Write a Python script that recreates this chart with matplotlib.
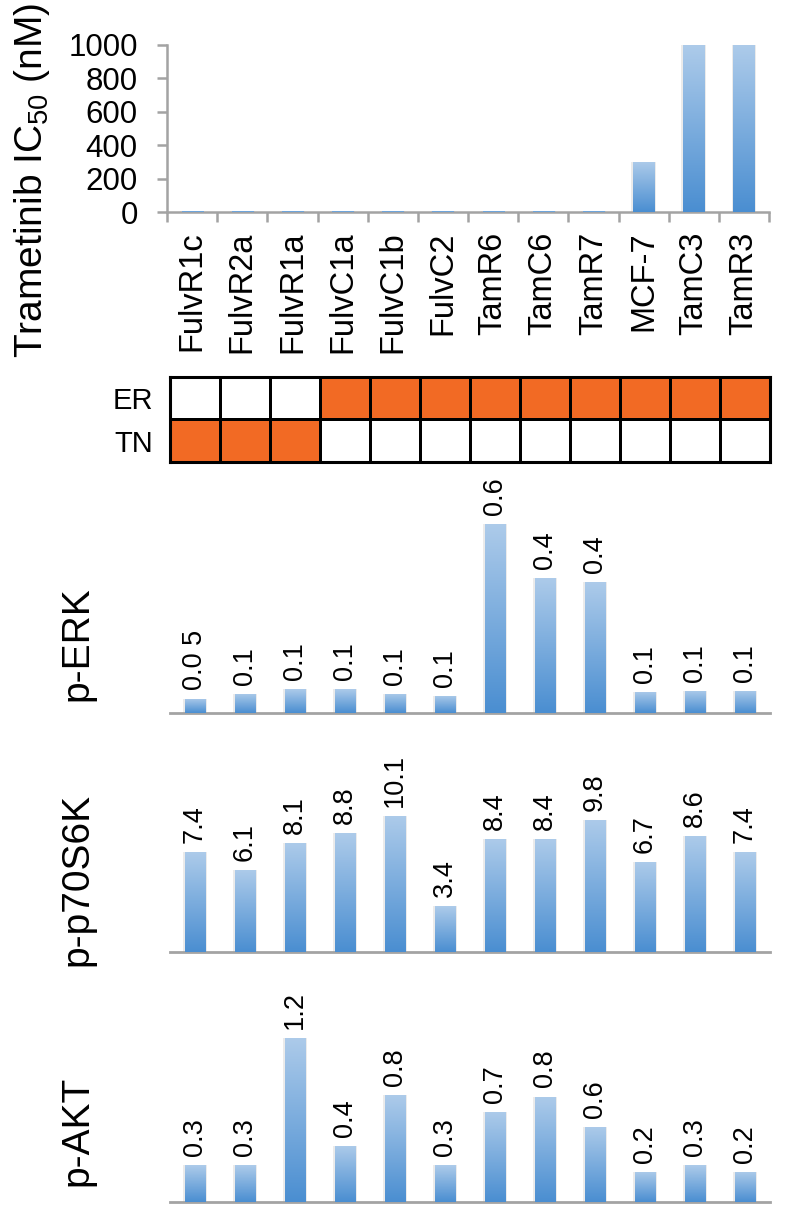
import numpy as np
import matplotlib
matplotlib.use('Agg')
import matplotlib.pyplot as plt
from matplotlib.colors import LinearSegmentedColormap, ListedColormap

plt.rcParams['font.family'] = ['Liberation Sans', 'DejaVu Sans']
plt.rcParams['mathtext.default'] = 'regular'

# ---------------- data ----------------
cell_lines = ['FulvR1c', 'FulvR2a', 'FulvR1a', 'FulvC1a', 'FulvC1b', 'FulvC2',
              'TamR6', 'TamC6', 'TamR7', 'MCF-7', 'TamC3', 'TamR3']
ic50_nM = [5, 5, 5, 5, 5, 5, 5, 5, 5, 300, 1000, 1000]
ic50_ticks = [0, 200, 400, 600, 800, 1000]

status_rows = ['ER', 'TN']
er_status = [0, 0, 0, 1, 1, 1, 1, 1, 1, 1, 1, 1]
tn_status = [1, 1, 1, 0, 0, 0, 0, 0, 0, 0, 0, 0]

perk_values = [0.045, 0.061, 0.075, 0.075, 0.061, 0.054, 0.60, 0.43, 0.415, 0.068, 0.07, 0.07]
perk_labels = ['0.0 5', '0.1', '0.1', '0.1', '0.1', '0.1', '0.6', '0.4', '0.4', '0.1', '0.1', '0.1']

p70_values = [7.4, 6.1, 8.1, 8.8, 10.1, 3.4, 8.4, 8.4, 9.8, 6.7, 8.6, 7.4]
p70_labels = ['7.4', '6.1', '8.1', '8.8', '10.1', '3.4', '8.4', '8.4', '9.8', '6.7', '8.6', '7.4']

pakt_values = [0.27, 0.27, 1.2, 0.41, 0.78, 0.27, 0.66, 0.77, 0.55, 0.22, 0.27, 0.22]
pakt_labels = ['0.3', '0.3', '1.2', '0.4', '0.8', '0.3', '0.7', '0.8', '0.6', '0.2', '0.3', '0.2']

# ---------------- style ----------------
W, H = 785, 1211
DPI = 100
AXIS_GRAY = '#a3a3a3'
ORANGE = '#F26A24'
bar_cmap = LinearSegmentedColormap.from_list('barg', ['#4a8ed1', '#adcbea'])
BAR_W = 0.42

fig = plt.figure(figsize=(W / DPI, H / DPI), dpi=DPI)


def add_ax_px(left, top, right, bottom):
    return fig.add_axes([left / W, 1 - bottom / H, (right - left) / W, (bottom - top) / H])


def gradient_bars(ax, vals):
    x = np.arange(len(vals))
    ax.bar(x, vals, width=BAR_W + 0.07, color='#7f7f7f', alpha=0.15, zorder=1, linewidth=0)
    bars = ax.bar(x, vals, width=BAR_W, color='none', edgecolor='none', zorder=2)
    grad = np.linspace(1, 0, 256).reshape(-1, 1)
    for b in bars:
        x0, w, h = b.get_x(), b.get_width(), b.get_height()
        im = ax.imshow(grad, cmap=bar_cmap, vmin=0, vmax=1, aspect='auto',
                       extent=[x0, x0 + w, 0, h], origin='upper', zorder=3)
        im.set_clip_path(b)
    return bars


def value_panel(top, bottom, vals, labels, px_per_unit, name, name_y):
    ax = add_ax_px(170, top, 770, bottom)
    gradient_bars(ax, vals)
    for i, (v, lab) in enumerate(zip(vals, labels)):
        ax.annotate(lab, (i, v), xytext=(0, 6.5), textcoords='offset points',
                    rotation=90, ha='center', va='bottom', fontsize=19.5)
    ax.set_xlim(-0.5, len(vals) - 0.5)
    ax.set_ylim(0, (bottom - top) / px_per_unit)
    for s in ['top', 'right', 'left']:
        ax.spines[s].set_visible(False)
    ax.spines['bottom'].set_color(AXIS_GRAY)
    ax.spines['bottom'].set_linewidth(2.0)
    ax.set_xticks([])
    ax.set_yticks([])
    ax.patch.set_alpha(0)
    fig.text(77 / W, 1 - name_y / H, name, rotation=90, ha='center', va='center', fontsize=28)
    return ax


# ---------------- top panel: IC50 ----------------
ax0 = add_ax_px(167, 45, 769, 212)
gradient_bars(ax0, ic50_nM)
ax0.set_xlim(-0.5, len(cell_lines) - 0.5)
ax0.set_ylim(0, 1000)
ax0.set_yticks(ic50_ticks)
ax0.set_yticklabels([str(t) for t in ic50_ticks], fontsize=22.5)
ax0.set_xticks(np.arange(len(cell_lines)))
ax0.set_xticklabels(cell_lines, rotation=90, fontsize=23.5, va='top')
ax0.set_xticks(np.arange(len(cell_lines) + 1) - 0.5, minor=True)
ax0.tick_params(axis='x', which='major', length=0, pad=14)
ax0.tick_params(axis='x', which='minor', length=7, width=1.8, color=AXIS_GRAY, direction='out')
ax0.tick_params(axis='y', length=7, width=1.8, color=AXIS_GRAY, direction='out', pad=14)
for s in ['top', 'right']:
    ax0.spines[s].set_visible(False)
for s in ['left', 'bottom']:
    ax0.spines[s].set_color(AXIS_GRAY)
    ax0.spines[s].set_linewidth(1.8)
fig.text(32 / W, 1 - 180 / H, 'Trametinib IC$_{50}$ (nM)', rotation=90,
         ha='center', va='center', fontsize=28)

# ---------------- heatmap: ER / TN ----------------
axh = add_ax_px(170, 377, 770, 462)
status = np.array([er_status, tn_status])
axh.pcolormesh(status, cmap=ListedColormap(['white', ORANGE]), vmin=0, vmax=1,
               edgecolors='black', linewidth=2.0)
axh.set_xlim(0, len(cell_lines))
axh.set_ylim(len(status_rows), 0)
axh.set_xticks([])
axh.set_yticks(np.arange(len(status_rows)) + 0.5)
axh.set_yticklabels(status_rows, fontsize=21)
axh.tick_params(axis='y', length=0, pad=12)
for s in axh.spines.values():
    s.set_color('black')
    s.set_linewidth(2.2)

# ---------------- lower panels ----------------
value_panel(470, 713, perk_values, perk_labels, 315.0, 'p-ERK', 644)
value_panel(745, 952, p70_values, p70_labels, 13.5, 'p-p70S6K', 879)
value_panel(985, 1202, pakt_values, pakt_labels, 137.0, 'p-AKT', 1131)

fig.savefig('out.png', dpi=DPI)
